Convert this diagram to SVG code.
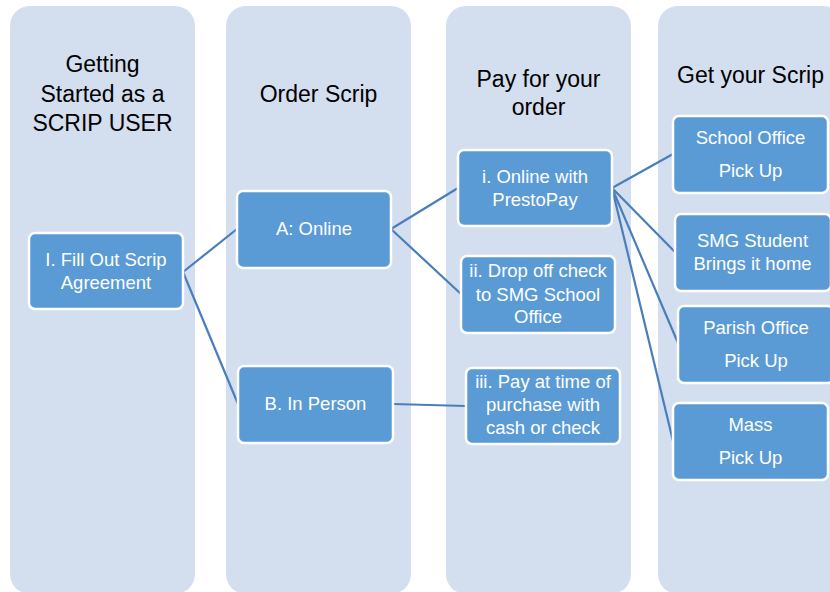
<svg xmlns="http://www.w3.org/2000/svg" width="830" height="592" viewBox="0 0 830 592">
<style>
.lane{fill:#d3deef}
.hdr{font-family:"Liberation Sans",Arial,sans-serif;font-size:23px;fill:#000;text-anchor:middle}
.box{fill:#5b9bd5;stroke:#fff;stroke-width:2.5}
.t{font-family:"Liberation Sans",Arial,sans-serif;font-size:18.5px;fill:#fff;text-anchor:middle}
.c{stroke:#4a7ebb;stroke-width:2.2;fill:none}
</style>
<rect width="830" height="592" fill="#fff"/>
<g id="lanes">
<rect class="lane" x="10" y="6" width="185" height="588" rx="20"/>
<rect class="lane" x="226" y="6" width="185" height="588" rx="20"/>
<rect class="lane" x="446" y="6" width="185" height="588" rx="20"/>
<rect class="lane" x="658" y="6" width="185" height="588" rx="20"/>
</g>
<g id="headers">
<text class="hdr" x="102.5" y="72">Getting</text>
<text class="hdr" x="102.5" y="102">Started as a</text>
<text class="hdr" x="102.5" y="131">SCRIP USER</text>
<text class="hdr" x="318.5" y="102">Order Scrip</text>
<text class="hdr" x="538.5" y="87">Pay for your</text>
<text class="hdr" x="538.5" y="115">order</text>
<text class="hdr" x="750.5" y="83">Get your Scrip</text>
</g>
<g id="connectors">
<line class="c" x1="183" y1="272" x2="237" y2="229"/>
<line class="c" x1="183" y1="272" x2="238" y2="404"/>
<line class="c" x1="391" y1="229" x2="458" y2="188"/>
<line class="c" x1="391" y1="229" x2="461" y2="294"/>
<line class="c" x1="393" y1="404" x2="466" y2="406"/>
<line class="c" x1="612" y1="188" x2="673" y2="154"/>
<line class="c" x1="612" y1="188" x2="675" y2="252"/>
<line class="c" x1="612" y1="188" x2="678" y2="343"/>
<line class="c" x1="612" y1="188" x2="673" y2="441"/>
</g>
<g id="n-fill">
<rect class="box" x="29" y="233" width="154" height="76" rx="6"/>
<text class="t" x="106" y="266">I. Fill Out Scrip</text>
<text class="t" x="106" y="289">Agreement</text>
</g>
<g id="n-online">
<rect class="box" x="237" y="191" width="154" height="77" rx="6"/>
<text class="t" x="314" y="235">A: Online</text>
</g>
<g id="n-person">
<rect class="box" x="238" y="366" width="155" height="77" rx="6"/>
<text class="t" x="315.5" y="410">B. In Person</text>
</g>
<g id="n-presto">
<rect class="box" x="458" y="150" width="154" height="76" rx="6"/>
<text class="t" x="535" y="183">i. Online with</text>
<text class="t" x="535" y="206">PrestoPay</text>
</g>
<g id="n-drop">
<rect class="box" x="461" y="256" width="154" height="77" rx="6"/>
<text class="t" x="538" y="277">ii. Drop off check</text>
<text class="t" x="538" y="301">to SMG School</text>
<text class="t" x="538" y="323">Office</text>
</g>
<g id="n-pay">
<rect class="box" x="466" y="368" width="154" height="76" rx="6"/>
<text class="t" x="543" y="388">iii. Pay at time of</text>
<text class="t" x="543" y="411">purchase with</text>
<text class="t" x="543" y="434">cash or check</text>
</g>
<g id="n-school">
<rect class="box" x="673" y="116" width="155" height="77" rx="6"/>
<text class="t" x="750.5" y="144">School Office</text>
<text class="t" x="750.5" y="177">Pick Up</text>
</g>
<g id="n-student">
<rect class="box" x="675" y="214" width="156" height="77" rx="6"/>
<text class="t" x="752.5" y="247">SMG Student</text>
<text class="t" x="752.5" y="270">Brings it home</text>
</g>
<g id="n-parish">
<rect class="box" x="678" y="306" width="156" height="77" rx="6"/>
<text class="t" x="756" y="334">Parish Office</text>
<text class="t" x="756" y="367">Pick Up</text>
</g>
<g id="n-mass">
<rect class="box" x="673" y="403" width="155" height="77" rx="6"/>
<text class="t" x="750.5" y="431">Mass</text>
<text class="t" x="750.5" y="464">Pick Up</text>
</g>
</svg>
